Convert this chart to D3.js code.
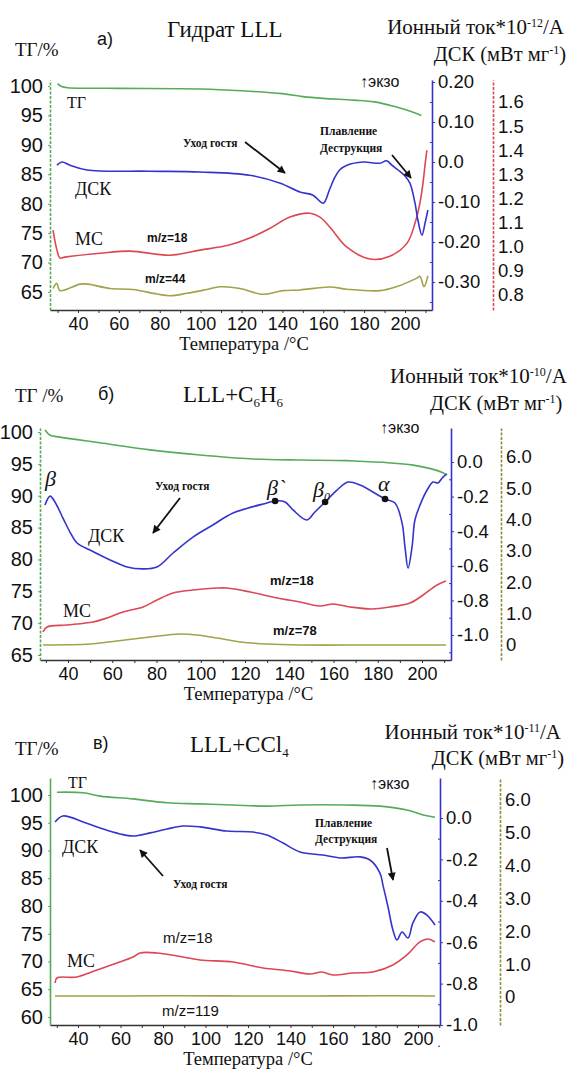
<!DOCTYPE html>
<html>
<head>
<meta charset="utf-8">
<script src="https://cdn.jsdelivr.net/npm/d3@7"></script>
<style>
  body { margin: 0; background: #fff; }
  svg { display: block; }
</style>
</head>
<body>
<svg id="chart" width="571" height="1070"></svg>
<script>
// ---- data: [temperature °C, value] ----
// panel a) Гидрат LLL
let tgA = [[30,100.4],[32,99.9],[35,99.7],[60,99.6],[100,99.5],[120,99.2],[140,98.7],[150,98.2],[160,97.9],[175,97.6],[185,97.3],[195,96.5],[200,96.0],[205,95.4],[208,95.0]];
let dscA = [[29.7,-0.008],[32.2,0.0],[36,-0.008],[44.4,-0.02],[75,-0.023],[99.7,-0.025],[124,-0.033],[139,-0.053],[148.6,-0.075],[155,-0.083],[160,-0.103],[163,-0.07],[165.7,-0.038],[168,-0.02],[171.6,-0.008],[179.4,0.0],[187.7,-0.003],[191,0.003],[193.6,-0.008],[196.6,-0.02],[200,-0.035],[202.4,-0.053],[204.9,-0.103],[206.3,-0.145],[208.3,-0.183],[209.8,-0.153],[211.2,-0.12]];
let ms18A = [[27.8,1.069],[29.7,0.986],[31.2,0.953],[33.6,0.957],[50.8,0.973],[65.4,0.982],[85,0.965],[99.7,0.986],[114,1.007],[124,1.036],[134,1.077],[143.7,1.123],[153.5,1.139],[158.4,1.123],[163.3,1.081],[171.6,0.998],[182.9,0.949],[192.6,0.961],[201,1.015],[204.9,1.098],[207.3,1.181],[208.8,1.264],[209.8,1.339],[210.7,1.40]];
let ms44A = [[27.8,0.827],[29.6,0.848],[31.2,0.818],[41,0.845],[44.9,0.845],[55.7,0.827],[66.9,0.823],[78.6,0.804],[85,0.797],[93.3,0.807],[103.1,0.823],[109.5,0.834],[119.3,0.827],[129,0.804],[132.5,0.804],[140.3,0.818],[148.6,0.821],[163.3,0.833],[171.6,0.824],[187.7,0.818],[196,0.835],[205.8,0.870],[207.3,0.877],[209.3,0.835],[211.2,0.88]];

// panel б) LLL+C6H6
let tgB = [[29.6,100.3],[31.9,99.5],[36.4,99.2],[54.5,98.3],[77.1,97.2],[99.7,96.4],[122.3,95.8],[144.9,95.6],[166,95.5],[196,94.8],[209.5,93.6],[210.8,93.3]];
let dscB = [[29.6,-0.249],[31.9,-0.197],[34.1,-0.231],[37.7,-0.324],[40.9,-0.405],[44.1,-0.468],[49.9,-0.509],[59,-0.566],[66.7,-0.607],[73.9,-0.618],[80.2,-0.607],[87.5,-0.526],[96.5,-0.434],[105.5,-0.364],[114.6,-0.295],[129.9,-0.237],[133.6,-0.225],[138.1,-0.231],[141.7,-0.277],[148,-0.335],[151.6,-0.289],[156.2,-0.231],[161.6,-0.162],[166.6,-0.116],[172,-0.133],[183.3,-0.214],[187.8,-0.237],[191,-0.353],[192.3,-0.491],[193.7,-0.613],[195.5,-0.491],[196.8,-0.335],[199.1,-0.249],[202.3,-0.162],[205,-0.116],[207.2,-0.121],[209.5,-0.087],[211.3,-0.069]];
let ms18B = [[28.7,0.415],[30.5,0.575],[39.5,0.638],[51.3,0.734],[57.6,0.862],[64.9,1.053],[73.9,1.213],[80.2,1.436],[87.5,1.66],[96.5,1.755],[107.3,1.819],[111.9,1.819],[122.3,1.692],[134.5,1.5],[144.9,1.372],[153.9,1.245],[159.8,1.309],[167.5,1.213],[177.4,1.149],[185.5,1.213],[194.6,1.341],[200.5,1.596],[206.8,1.915],[210.8,2.043]];
let ms78B = [[28.7,0.0],[49.9,0.03],[62.1,0.128],[77.1,0.255],[90.6,0.351],[98.3,0.32],[107.3,0.223],[117.7,0.096],[129.9,0.03],[144.9,0.0],[180,0.0],[210.8,0.0]];
let dotsB = [[133.6,-0.225],[156.2,-0.231],[183.3,-0.214]];

// panel в) LLL+CCl4
let tgC = [[30.1,100.5],[42.4,100.4],[50.4,99.8],[65.9,99.3],[81.9,98.6],[97.4,98.4],[112.9,98.2],[128.9,98.0],[144.5,98.2],[166.6,98.2],[182.1,98.0],[194.8,97.3],[202.4,96.4],[208,96.0]];
let dscC = [[29.2,-0.019],[32.9,0.01],[42.4,-0.019],[50.4,-0.048],[59.8,-0.077],[65.9,-0.087],[73.9,-0.072],[81.9,-0.053],[89.4,-0.039],[97.4,-0.043],[110.1,-0.063],[122.4,-0.068],[128.9,-0.082],[136.5,-0.121],[144.5,-0.164],[155.3,-0.179],[163.3,-0.193],[172.7,-0.188],[177.4,-0.203],[182.1,-0.266],[183.5,-0.324],[185.9,-0.43],[188.2,-0.541],[190.1,-0.589],[192.5,-0.551],[195.3,-0.58],[197.6,-0.507],[201,-0.454],[204.2,-0.469],[208,-0.517]];
let ms18C = [[29.2,0.427],[30.1,0.579],[39.5,0.61],[48.9,0.823],[58.4,1.037],[65.9,1.22],[69.2,1.341],[77.2,1.341],[86.6,1.25],[97.4,1.128],[112.9,1.067],[127.1,0.884],[139.8,0.793],[149.2,0.701],[154.8,0.762],[160,0.671],[169.4,0.732],[178.8,0.762],[188.2,0.976],[194.8,1.28],[200.9,1.677],[204.7,1.768],[208,1.677]];
let ms119C = [[29.2,0.03],[60,0.03],[90,0.04],[120,0.03],[150,0.03],[180,0.04],[208,0.03]];

// ---- ticks ----
let tempTicks = [40,60,80,100,120,140,160,180,200];
let tempMinor = [30,50,70,90,110,130,150,170,190,210];
let tgTicksAB = [100,95,90,85,80,75,70,65];
let tgTicksC = [100,95,90,85,80,75,70,65,60];
let dscTicksA = [0.2,0.1,0,-0.1,-0.2,-0.3];
let dscLabelsA = ["0.20","0.10","0.0","-0.10","-0.20","-0.30"];
let dscTicksBC = [0,-0.2,-0.4,-0.6,-0.8,-1.0];
let dscLabelsBC = ["0.0","-0.2","-0.4","-0.6","-0.8","-1.0"];
let ionTicksA = [1.6,1.5,1.4,1.3,1.2,1.1,1.0,0.9,0.8];
let ionLabelsA = ["1.6","1.5","1.4","1.3","1.2","1.1","1.0","0.9","0.8"];
let ionTicksBC = [6,5,4,3,2,1,0];
let ionLabelsBC = ["6.0","5.0","4.0","3.0","2.0","1.0","0"];

const GREEN = "#55ab59", BLUE = "#3434cc", RED = "#dc4753", OLIVE = "#a2a24a";
const SERIF = "'Liberation Serif','DejaVu Serif',serif";
const SANS = "'Liberation Sans',Arial,sans-serif";

const svg = d3.select("#chart");

svg.append("defs").append("marker")
	.attr("id", "ah")
	.attr("viewBox", "0 0 10 10")
	.attr("refX", 9).attr("refY", 5)
	.attr("markerWidth", 9).attr("markerHeight", 8)
	.attr("markerUnits", "userSpaceOnUse")
	.attr("orient", "auto")
	.append("path").attr("d", "M0,0 L10,5 L0,10 z").attr("fill", "#111");

// scale from two calibration ticks, then stretched to the drawn axis length
calib = (cal, rng)=>{
	let s = d3.scaleLinear().domain([cal[0][0], cal[1][0]]).range([cal[0][1], cal[1][1]]);
	return d3.scaleLinear().domain([s.invert(rng[0]), s.invert(rng[1])]).range(rng);
}

styleAxis = (g, color, dash, fs)=>{
	g.select(".domain").attr("stroke", color).attr("stroke-width", 1.6)
		.attr("stroke-dasharray", dash ? "3,1.5" : null);
	g.selectAll(".tick line").attr("stroke", color);
	g.selectAll(".tick text").attr("fill", "#111").style("font-family", SANS).style("font-size", fs + "px");
}

drawPanel = (p)=>{
	let g = svg.append("g");
	let x = calib(p.xCal, p.xRng);
	let yTg = calib(p.tgCal, [p.bottom, p.top]);
	let yDsc = calib(p.dscCal, [p.bottom, p.top]);
	let yIon = calib(p.ionCal, [p.bottom, p.top]);

	// temperature axis
	let gx = g.append("g").attr("transform", "translate(0," + p.bottom + ")");
	gx.call(d3.axisBottom(x).tickValues(tempTicks).tickSize(3).tickSizeOuter(0).tickPadding(4));
	gx.append("g").call(d3.axisBottom(x).tickValues(tempMinor).tickSize(3).tickFormat(""))
		.select(".domain").remove();
	styleAxis(gx, "#333", false, 18);
	gx.selectAll(".tick line").attr("stroke", "#333");

	// TG axis
	let gl = g.append("g").attr("transform", "translate(" + p.xRng[0] + ",0)");
	gl.call(d3.axisLeft(yTg).tickValues(p.tgTicks).tickSize(2).tickSizeOuter(0).tickPadding(5));
	styleAxis(gl, GREEN, p.leftDash, 20);

	// DSC axis
	let gd = g.append("g").attr("transform", "translate(" + p.xRng[1] + ",0)");
	gd.call(d3.axisRight(yDsc).tickValues(p.dscTicks).tickFormat((d,i)=>p.dscLabels[i]).tickSize(3).tickSizeOuter(0).tickPadding(3));
	gd.append("g").call(d3.axisRight(yDsc).tickValues(p.dscTicks.map((d,i)=>d - (p.dscTicks[0]-p.dscTicks[1])/2)).tickSize(-2).tickFormat(""))
		.select(".domain").remove();
	styleAxis(gd, BLUE, false, 18.5);
	gd.selectAll(".tick line").attr("stroke", BLUE);

	// ion current axis
	let gi = g.append("g").attr("transform", "translate(" + p.ionX + ",0)");
	gi.call(d3.axisRight(yIon).tickValues(p.ionTicks).tickFormat((d,i)=>p.ionLabels[i]).tickSize(0).tickSizeOuter(0).tickPadding(5));
	styleAxis(gi, p.ionColor, true, 18.5);
	if (p.ionColor === OLIVE) gi.select(".domain").attr("stroke", "#8d8d3a");

	let line = (ys)=> d3.line().x(d=>x(d[0])).y(d=>ys(d[1])).curve(d3.curveCatmullRom.alpha(0.5));
	let curves = [
		[p.ms2, yIon, OLIVE],
		[p.ms, yIon, RED],
		[p.tg, yTg, GREEN],
		[p.dsc, yDsc, BLUE]
	];
	curves.forEach(c=>{
		g.append("path").datum(c[0]).attr("d", line(c[1])).attr("fill", "none")
			.attr("stroke", c[2]).attr("stroke-width", 1.6).attr("stroke-linejoin", "round");
	});
	if (p.dots) {
		g.selectAll("circle.pt").data(p.dots).enter().append("circle")
			.attr("cx", d=>x(d[0])).attr("cy", d=>yDsc(d[1])).attr("r", 3.3).attr("fill", "#111");
	}
	g.append("text").attr("x", (p.xRng[0]+p.xRng[1])/2 + 3).attr("y", p.bottom + 40)
		.attr("text-anchor", "middle").style("font-family", SERIF).style("font-size", "18.5px")
		.attr("fill", "#111").text("Температура /°С");
}

drawPanel({ xCal:[[40,78],[200,405]], xRng:[50,432], bottom:310, top:80,
	tgCal:[[100,86],[65,292]], dscCal:[[0.2,82],[-0.3,282]], ionCal:[[1.6,102],[0.8,295]], ionX:493,
	ionColor:RED, leftDash:true, tgTicks:tgTicksAB, dscTicks:dscTicksA, dscLabels:dscLabelsA,
	ionTicks:ionTicksA, ionLabels:ionLabelsA, tg:tgA, dsc:dscA, ms:ms18A, ms2:ms44A });
drawPanel({ xCal:[[40,68],[200,422]], xRng:[40,451], bottom:660, top:428,
	tgCal:[[100,432],[65,655]], dscCal:[[0,462],[-1,635]], ionCal:[[6,457],[0,645]], ionX:501,
	ionColor:OLIVE, leftDash:true, tgTicks:tgTicksAB, dscTicks:dscTicksBC, dscLabels:dscLabelsBC,
	ionTicks:ionTicksBC, ionLabels:ionLabelsBC, tg:tgB, dsc:dscB, ms:ms18B, ms2:ms78B, dots:dotsB });
drawPanel({ xCal:[[40,78],[200,418]], xRng:[50,440], bottom:1025, top:778,
	tgCal:[[100,795],[60,1017]], dscCal:[[0,818],[-1,1025]], ionCal:[[6,800],[0,997]], ionX:500,
	ionColor:OLIVE, leftDash:false, tgTicks:tgTicksC, dscTicks:dscTicksBC, dscLabels:dscLabelsBC,
	ionTicks:ionTicksBC, ionLabels:ionLabelsBC, tg:tgC, dsc:dscC, ms:ms18C, ms2:ms119C });

// ---- texts ----
txt = (x, y, s, font, size, opts = {})=>{
	let t = svg.append("text").attr("x", x).attr("y", y)
		.style("font-family", font).style("font-size", size + "px").attr("fill", "#111")
		.attr("text-anchor", opts.anchor || "start")
		.style("font-weight", opts.bold ? "bold" : "normal")
		.style("font-style", opts.italic ? "italic" : "normal");
	s.forEach(part=>{
		if (typeof part === "string") t.append("tspan").text(part);
		else t.append("tspan").attr("dy", part.dy).style("font-size", part.fs + "px").text(part.t);
	});
	return t;
}
arrow = (x1, y1, x2, y2)=>{
	svg.append("line").attr("x1", x1).attr("y1", y1).attr("x2", x2).attr("y2", y2)
		.attr("stroke", "#111").attr("stroke-width", 1.8).attr("marker-end", "url(#ah)");
}
ionTitle = (x, y, exp, anchor)=>{
	txt(x, y, ["Ионный ток*10", {t:exp, dy:-7, fs:12}, {t:"/А", dy:7, fs:21}], SERIF, 21, {anchor:anchor});
}
dscTitle = (x, y, anchor)=>{
	txt(x, y, ["ДСК (мВт мг", {t:"-1", dy:-7, fs:12}, {t:")", dy:7, fs:20.5}], SERIF, 20.5, {anchor:anchor});
}

// panel a
txt(15, 56, ["ТГ/%"], SERIF, 19);
txt(97, 45, ["а)"], SANS, 18);
txt(167, 37, ["Гидрат LLL"], SERIF, 23);
ionTitle(564, 34, "-12", "end");
dscTitle(566, 61, "end");
txt(360, 87, ["↑экзо"], SANS, 16);
txt(67, 108, ["ТГ"], SERIF, 16);
txt(75, 195, ["ДСК"], SERIF, 18);
txt(75, 245, ["МС"], SERIF, 18);
txt(147, 242, ["m/z=18"], SANS, 12, {bold:true});
txt(145, 283, ["m/z=44"], SANS, 12, {bold:true});
txt(183, 147, ["Уход гостя"], SERIF, 11.5, {bold:true});
arrow(245, 142, 285, 173);
txt(320, 135, ["Плавление"], SERIF, 11.5, {bold:true});
txt(320, 152, ["Деструкция"], SERIF, 11.5, {bold:true});
arrow(392, 155, 411, 178);

// panel б
txt(15, 402, ["ТГ /%"], SERIF, 19);
txt(98, 400, ["б)"], SANS, 18);
txt(183, 402, ["LLL+C", {t:"6", dy:5, fs:13}, {t:"H", dy:-5, fs:23}, {t:"6", dy:5, fs:13}], SERIF, 23);
ionTitle(390, 383, "-10", "start");
dscTitle(430, 410, "start");
txt(380, 433, ["↑экзо"], SANS, 16);
txt(45, 486, ["β"], SERIF, 22, {italic:true});
txt(267, 495, ["β`"], SERIF, 22, {italic:true});
txt(313, 497, ["β", {t:"0", dy:4, fs:12}], SERIF, 22, {italic:true});
txt(378, 491, ["α"], SERIF, 22, {italic:true});
txt(155, 490, ["Уход гостя"], SERIF, 11.5, {bold:true});
arrow(180, 498, 153, 533);
txt(88, 542, ["ДСК"], SERIF, 18);
txt(63, 617, ["МС"], SERIF, 18);
txt(270, 585, ["m/z=18"], SANS, 13, {bold:true});
txt(273, 635, ["m/z=78"], SANS, 13, {bold:true});

// panel в
txt(15, 755, ["ТГ/%"], SERIF, 19);
txt(93, 749, ["в)"], SANS, 18);
txt(190, 752, ["LLL+CCl", {t:"4", dy:5, fs:13}], SERIF, 23);
ionTitle(561, 739, "-11", "end");
dscTitle(564, 765, "end");
txt(370, 789, ["↑экзо"], SANS, 16);
txt(68, 788, ["ТГ"], SERIF, 16);
txt(62, 853, ["ДСК"], SERIF, 18);
txt(173, 888, ["Уход гостя"], SERIF, 11.5, {bold:true});
arrow(163, 876, 140, 850);
txt(315, 827, ["Плавление"], SERIF, 11.5, {bold:true});
txt(315, 843, ["Деструкция"], SERIF, 11.5, {bold:true});
arrow(387, 848, 393, 880);
txt(67, 967, ["МС"], SERIF, 18);
txt(163, 943, ["m/z=18"], SANS, 15);
txt(162, 1016, ["m/z=119"], SANS, 15);
</script>
</body>
</html>
